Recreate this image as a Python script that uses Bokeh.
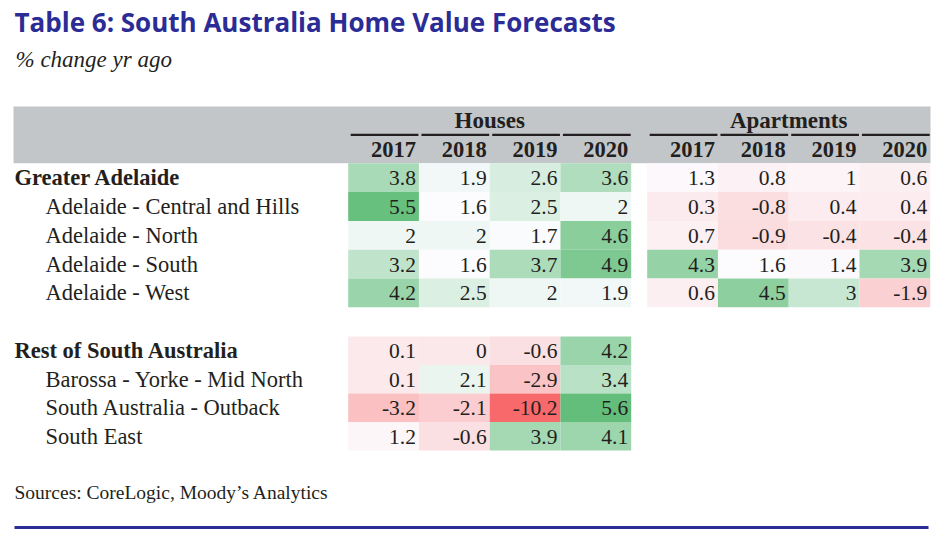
import numpy as np
from bokeh.plotting import figure
from bokeh.models import Range1d, ColumnDataSource, Label
from bokeh.core.properties import value
from bokeh.embed import file_html
from bokeh.resources import INLINE

# ---------------- data ----------------
title = "Table 6: South Australia Home Value Forecasts"
subtitle = "% change yr ago"
source_note = "Sources: CoreLogic, Moody\u2019s Analytics"
groups = ["Houses", "Apartments"]
years = ["2017", "2018", "2019", "2020"]

ga_rows = ["Greater Adelaide", "Adelaide - Central and Hills", "Adelaide - North",
           "Adelaide - South", "Adelaide - West"]
ga_houses = [[3.8, 1.9, 2.6, 3.6],
             [5.5, 1.6, 2.5, 2],
             [2, 2, 1.7, 4.6],
             [3.2, 1.6, 3.7, 4.9],
             [4.2, 2.5, 2, 1.9]]
ga_apartments = [[1.3, 0.8, 1, 0.6],
                 [0.3, -0.8, 0.4, 0.4],
                 [0.7, -0.9, -0.4, -0.4],
                 [4.3, 1.6, 1.4, 3.9],
                 [0.6, 4.5, 3, -1.9]]
rest_rows = ["Rest of South Australia", "Barossa - Yorke - Mid North",
             "South Australia - Outback", "South East"]
rest_houses = [[0.1, 0, -0.6, 4.2],
               [0.1, 2.1, -2.9, 3.4],
               [-3.2, -2.1, -10.2, 5.6],
               [1.2, -0.6, 3.9, 4.1]]

# ---------------- styling / layout ----------------
W, H = 938, 535
TY = 8                 # baseline correction for text rendering
SERIF = "Liberation Serif"
BLUE = "#2b2c95"
INK = "#231f20"
GRAY = "#c2c6c9"
RED, WHITE, GREEN = (248, 105, 107), (252, 252, 255), (99, 190, 123)

col_w = 70.75
group_left = {"Houses": 347.7, "Apartments": 646.7}
ga_top, rest_top, row_h, rest_row_h = 162.8, 336.0, 28.8, 28.5

all_vals = np.array(sum(ga_houses + ga_apartments + rest_houses, []), dtype=float)
vmin, vmid, vmax = all_vals.min(), np.median(all_vals), all_vals.max()


def cell_color(v):
    if v >= vmid:
        t = (v - vmid) / (vmax - vmid)
        b = GREEN
    else:
        t = (vmid - v) / (vmid - vmin)
        b = RED
    c = [round(WHITE[i] + (b[i] - WHITE[i]) * t) for i in range(3)]
    return "#%02x%02x%02x" % tuple(c)


def fmt(v):
    return f"{v:g}"


p = figure(width=W, height=H, x_range=Range1d(0, W), y_range=Range1d(H, 0),
           output_backend="svg", toolbar_location=None, min_border=0,
           x_axis_type=None, y_axis_type=None)
p.grid.visible = False
p.outline_line_color = None
p.background_fill_color = "white"
p.border_fill_color = "white"

# header band
p.quad(left=[13], right=[930], top=[106], bottom=[162.8],
       fill_color=GRAY, line_color=None)

# cells
cells = dict(left=[], right=[], top=[], bottom=[], color=[], txt=[], tx=[], ty=[])


def add_block(data, grp, top, rh):
    for r, row in enumerate(data):
        for c, v in enumerate(row):
            l = group_left[grp] + c * col_w
            t = top + r * rh
            cells["left"].append(l)
            cells["right"].append(l + col_w)
            cells["top"].append(t)
            cells["bottom"].append(t + rh)
            cells["color"].append(cell_color(v))
            cells["txt"].append(fmt(v))
            cells["tx"].append(l + col_w - 3)
            cells["ty"].append(t + 22.8 - TY)


add_block(ga_houses, "Houses", ga_top, row_h)
add_block(ga_apartments, "Apartments", ga_top, row_h)
add_block(rest_houses, "Houses", rest_top, rest_row_h)
src = ColumnDataSource(cells)
p.quad(left="left", right="right", top="top", bottom="bottom", fill_color="color",
       line_color=None, source=src)
p.text(x="tx", y="ty", text="txt", source=src, text_align="right",
       text_baseline="alphabetic", text_font=value(SERIF), text_font_size="21.5px",
       text_color=INK)

# group headers, underlines, year labels
for g in groups:
    l0 = group_left[g]
    p.text(x=[l0 + 2 * col_w], y=[128.3 - TY], text=[g], text_align="center",
           text_baseline="alphabetic", text_font=value(SERIF), text_font_size="23px",
           text_font_style="bold", text_color=INK)
    xs = [[l0 + c * col_w + 2.5, l0 + (c + 1) * col_w - 0.5] for c in range(len(years))]
    ys = [[134.3, 134.3] for _ in years]
    p.multi_line(xs=xs, ys=ys, line_color=INK, line_width=2.2)
    p.text(x=[l0 + (c + 1) * col_w - 3 for c in range(len(years))],
           y=[157 - TY] * len(years), text=years, text_align="right",
           text_baseline="alphabetic", text_font=value(SERIF), text_font_size="22.5px",
           text_font_style="bold", text_color=INK)


# row labels
def add_labels(rows, top, rh):
    xs = [14 if i == 0 else 45 for i in range(len(rows))]
    ysb = [top + i * rh + 22.3 - TY for i in range(len(rows))]
    p.text(x=xs[:1], y=ysb[:1], text=rows[:1], text_baseline="alphabetic",
           text_font=value(SERIF), text_font_size="22.5px", text_font_style="bold",
           text_color=INK)
    p.text(x=xs[1:], y=ysb[1:], text=rows[1:], text_baseline="alphabetic",
           text_font=value(SERIF), text_font_size="22.5px", text_color=INK)


add_labels(ga_rows, ga_top, row_h)
add_labels(rest_rows, rest_top, rest_row_h)

# titles and notes
p.add_layout(Label(x=14, y=29.3 - TY, text=title, text_font="Open Sans",
                   text_font_size="26px", text_font_style="bold", text_color=BLUE,
                   text_baseline="alphabetic"))
p.add_layout(Label(x=15, y=66.7 - TY, text=subtitle, text_font=SERIF,
                   text_font_size="23px", text_font_style="italic", text_color=INK,
                   text_baseline="alphabetic"))
p.add_layout(Label(x=14, y=499.5 - TY, text=source_note, text_font=SERIF,
                   text_font_size="19.5px", text_color=INK, text_baseline="alphabetic"))
p.line(x=[14, 928], y=[527, 527], line_color=BLUE, line_width=3)

open("out.html", "w").write(file_html(p, INLINE))
